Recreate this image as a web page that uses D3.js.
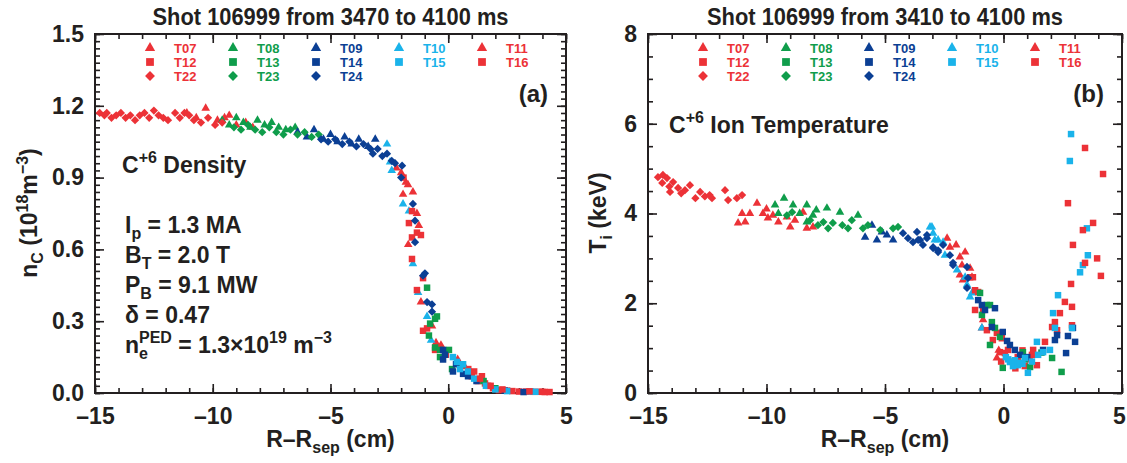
<!DOCTYPE html>
<html>
<head>
<meta charset="utf-8">
<script src="https://cdn.jsdelivr.net/npm/d3@7"></script>
<style>
  body { margin: 0; background: #fff; }
  svg text { font-family: 'Liberation Sans Narrow', 'Arial Narrow', 'Liberation Sans', sans-serif; font-weight: bold; fill: #231f20; }
  svg .legend text { font-family: 'Liberation Sans', Arial, sans-serif; }
</style>
</head>
<body>
<svg width="1127" height="463"></svg>
<script>
// ---- data: C+6 density n_C (1e18 m^-3) vs R-Rsep (cm) ----
const nc_T07 = [[-11.1,1.17],[-10.3,1.19],[-9.8,1.14],[-9.5,1.15],[-9.0,1.12],[-8.6,1.13],[-8.3,1.11],
  [-2.2,0.94],[-2.0,0.92],[-1.71,0.87],[-1.92,0.83],[-1.5,0.84],[-1.33,0.75],[-1.7,0.62],[-1.16,0.38],
  [-0.69,0.28],[-0.52,0.21],[-0.31,0.20],[0.4,0.14],[0.7,0.11]]
const nc_T11 = [[-10.7,1.15],[-9.3,1.16],[-1.8,0.88],[-1.25,0.70],[0.9,0.09]]
const nc_T12 = [[-1.9,0.90],[-1.54,0.76],[-1.67,0.71],[-1.54,0.65],[-1.16,0.66],[-1.33,0.67],[-1.54,0.56],
  [-1.07,0.48],[-1.33,0.43],[-1.07,0.26],[-0.9,0.27],[-0.56,0.18],[-0.1,0.16],[0.5,0.12],[0.85,0.10],
  [1.0,0.07],[1.26,0.05],[1.43,0.07],[1.56,0.04],[1.69,0.03],[1.9,0.02],[2.15,0.012],[2.5,0.01],
  [2.72,0.008],[3.0,0.006],[3.3,0.006],[3.6,0.005],[3.87,0.005],[4.1,0.004],[4.3,0.004]]
const nc_T16 = [[1.1,0.09],[1.35,0.06],[1.8,0.03],[2.3,0.015],[3.45,0.007],[4.0,0.005]]
const nc_T22 = [[-14.8,1.17],[-14.6,1.16],[-14.5,1.17],[-14.3,1.15],[-14.1,1.16],[-13.9,1.17],[-13.7,1.15],
  [-13.5,1.16],[-13.3,1.14],[-13.1,1.16],[-12.9,1.17],[-12.7,1.15],[-12.5,1.18],[-12.3,1.16],[-12.1,1.15],
  [-11.9,1.14],[-11.6,1.17],[-11.4,1.15],[-11.2,1.17],[-11.0,1.16],[-10.8,1.14],[-10.5,1.13],[-10.2,1.15],
  [-9.9,1.12],[-9.6,1.13]]
const nc_T08 = [[-9.6,1.14],[-9.3,1.12],[-9.0,1.15],[-8.7,1.13],[-8.4,1.11],[-8.1,1.14],[-7.8,1.12],
  [-7.5,1.13],[-7.2,1.11],[-6.9,1.10],[-6.5,1.11]]
const nc_T13 = [[-0.9,0.44],[-0.56,0.31],[-0.48,0.32],[-0.77,0.29],[-0.82,0.24],[-0.56,0.19],[-0.35,0.18],
  [0.03,0.18],[-0.35,0.15],[0.16,0.10],[0.6,0.12],[1.5,0.05],[2.0,0.02]]
const nc_T23 = [[-9.1,1.11],[-8.8,1.10],[-8.5,1.12],[-8.2,1.10],[-7.9,1.09],[-7.6,1.11],[-7.3,1.09],
  [-7.0,1.08],[-6.7,1.10],[-6.4,1.08],[-6.1,1.09],[-5.8,1.07],[-5.5,1.08]]
const nc_T09 = [[-6.4,1.09],[-6.0,1.07],[-5.7,1.10],[-5.3,1.06],[-5.0,1.08],[-4.7,1.05],[-4.4,1.07],
  [-4.1,1.04],[-3.8,1.06],[-3.4,1.03],[-3.1,1.06]]
const nc_T14 = [[-0.22,0.18],[-0.14,0.16],[-0.22,0.14],[0.2,0.09],[0.33,0.12],[0.63,0.08],[0.84,0.07],
  [1.2,0.05],[2.4,0.01],[3.2,0.004]]
const nc_T24 = [[-5.4,1.06],[-5.1,1.05],[-4.8,1.06],[-4.5,1.04],[-4.2,1.05],[-3.9,1.03],[-3.6,1.04],
  [-3.3,1.02],[-3.2,1.00],[-3.0,1.02],[-2.8,0.99],[-2.6,1.00],[-2.4,0.97],[-2.26,0.96],[-2.0,0.90],
  [-1.96,0.95],[-1.5,0.79],[-1.41,0.72],[-1.41,0.63],[-1.07,0.49],[-0.99,0.50],[-0.9,0.38],
  [-0.69,0.34],[-0.69,0.37]]
const nc_T10 = [[-2.6,1.04],[-2.47,0.965],[-2.4,0.93],[-1.92,0.79],[-1.67,0.76],[-1.5,0.54],[-1.28,0.42],
  [-0.9,0.32],[-0.73,0.22]]
const nc_T15 = [[0.37,0.13],[0.5,0.10],[0.63,0.12],[0.84,0.09],[0.2,0.15],[1.1,0.06],[1.6,0.03],
  [2.0,0.015],[2.5,0.008],[3.5,0.006],[3.7,0.005]]

// ---- data: C+6 ion temperature T_i (keV) vs R-Rsep (cm) ----
const ti_T07 = [[-11.2,3.79],[-11.03,4.0],[-10.9,3.81],[-10.7,4.0],[-10.4,4.23],[-10.15,4.0],[-9.94,3.9],
  [-9.73,3.96],[-9.5,3.81],[-9.14,3.92],[-9.0,3.70],[-8.46,4.03],[-8.3,3.67],[-8.04,3.7],
  [-2.38,3.45],[-2.26,3.25],[-1.84,3.03],[-1.75,2.85],[-1.62,3.14],[-1.41,2.78],[-1.84,2.63],
  [-1.33,2.58],[-1.71,2.52],[-0.86,1.63],[-0.91,1.45],[-0.28,0.78]]
const ti_T11 = [[-10.0,4.1],[-8.8,3.85],[-2.0,3.3],[-0.2,0.95]]
const ti_T12 = [[-1.41,2.58],[-1.29,2.58],[-1.2,2.29],[-1.07,2.25],[-1.2,1.85],[-0.86,1.85],[-0.7,1.4],
  [-0.28,1.34],[-0.45,1.18],[-0.07,1.22],[-0.15,0.91],[0.06,0.89],[0.19,0.96],[0.3,0.7],[0.6,0.8],
  [0.9,0.6],[1.1,0.75],[0.5,0.55],[1.2,0.85],[-0.1,0.7],[0.8,0.95],[1.25,0.96],[1.41,0.62],[1.75,1.14],
  [2.05,1.47],[2.26,1.4],[2.17,1.58],[2.38,1.78],[2.59,2.03],[2.85,2.43],[2.89,1.92],[2.89,1.51]]
const ti_T16 = [[2.93,3.3],[2.72,4.23],[3.35,3.63],[3.44,5.46],[3.44,2.9],[3.78,3.79],[3.95,3.0],
  [4.11,2.61],[4.2,4.88]]
const ti_T22 = [[-14.58,4.81],[-14.37,4.86],[-14.4,4.68],[-14.2,4.79],[-14.1,4.6],[-14.07,4.48],
  [-13.94,4.70],[-13.73,4.57],[-13.6,4.45],[-13.44,4.52],[-13.23,4.63],[-13.0,4.34],[-12.8,4.48],
  [-12.6,4.38],[-12.4,4.41],[-12.3,4.34],[-11.75,4.52],[-11.62,4.30],[-11.25,4.34],[-11.03,4.41]]
const ti_T08 = [[-9.64,4.19],[-9.5,4.0],[-9.26,4.34],[-8.88,4.19],[-8.6,4.0],[-8.3,4.19],[-8.04,3.96],
  [-7.9,4.08],[-7.45,4.12],[-6.9,4.03],[-6.14,3.96],[-8.3,3.81]]
const ti_T13 = [[-0.99,2.23],[-0.7,1.96],[-0.57,1.96],[-0.91,1.74],[-0.49,1.58],[-0.36,1.45],[-0.15,1.25],
  [-0.57,1.07],[-0.03,0.56],[0.82,0.91],[0.9,0.75],[1.12,0.58],[1.6,0.9],[2.05,0.78],[2.45,0.47]]
const ti_T23 = [[-9.14,3.96],[-8.92,4.03],[-8.16,3.85],[-7.83,3.74],[-7.6,3.81],[-7.4,3.67],[-7.2,3.79],
  [-6.8,3.74],[-6.56,3.67],[-6.4,3.85],[-5.93,3.67],[-5.72,3.74],[-5.2,3.63],[-4.66,3.67],[-4.45,3.7]]
const ti_T09 = [[-5.84,3.47],[-5.55,3.74],[-5.34,3.41],[-5.13,3.59],[-4.92,3.52],[-4.66,3.41]]
const ti_T14 = [[-1.07,2.07],[-0.91,1.96],[-0.78,1.85],[-0.36,1.89],[-0.49,1.47],[-0.03,1.36],[0.15,1.16],
  [0.27,1.07],[0.48,0.96],[0.7,0.85],[1.0,0.8],[1.67,0.96],[2.17,1.18],[2.26,1.29],[2.64,0.89],
  [2.72,1.27],[2.93,1.45],[3.02,1.14]]
const ti_T24 = [[-4.24,3.56],[-4.03,3.45],[-3.82,3.36],[-3.65,3.59],[-3.6,3.41],[-3.52,3.41],[-3.4,3.3],
  [-3.23,3.52],[-3.23,3.45],[-2.97,3.23],[-2.97,3.25],[-2.76,3.14],[-2.76,3.18],[-2.55,3.3],
  [-2.26,3.07],[-2.13,2.9],[-2.13,2.85],[-1.54,2.81],[-1.5,2.56],[-1.54,2.34]]
const ti_T10 = [[-3.1,3.7],[-3.02,3.7],[-2.97,3.56],[-2.9,3.41],[-2.76,3.41],[-2.55,3.36],[-2.47,3.07],
  [-1.96,2.74],[-1.62,2.58],[-1.54,2.41],[-1.41,2.14],[-1.33,2.23],[-0.91,1.45]]
const ti_T15 = [[0.1,0.8],[0.2,0.75],[0.27,0.69],[0.4,0.6],[0.48,0.73],[0.6,0.62],[0.7,0.67],[0.8,0.65],
  [0.91,0.78],[1.03,0.45],[1.2,0.7],[1.41,1.14],[1.46,0.85],[1.67,0.91],[1.96,0.96],[2.09,1.78],
  [2.17,1.45],[2.3,2.18],[2.8,5.17],[2.85,5.77],[2.89,1.45],[3.23,2.69],[3.35,2.85],[3.52,3.67],[3.56,3.07]]

// ---- series / tick definitions ----
const seriesNames = ['T07', 'T08', 'T09', 'T10', 'T11', 'T12', 'T13', 'T14', 'T15', 'T16', 'T22', 'T23', 'T24']
const legendRows = [['T07', 'T08', 'T09', 'T10', 'T11'], ['T12', 'T13', 'T14', 'T15', 'T16'], ['T22', 'T23', 'T24']]
const xTicks = [-15, -10, -5, 0, 5]
const ncTicks = [0, 0.3, 0.6, 0.9, 1.2, 1.5]
const tiTicks = [0, 2, 4, 6, 8]

const ncData = { T07: nc_T07, T08: nc_T08, T09: nc_T09, T10: nc_T10, T11: nc_T11, T12: nc_T12, T13: nc_T13,
  T14: nc_T14, T15: nc_T15, T16: nc_T16, T22: nc_T22, T23: nc_T23, T24: nc_T24 }
const tiData = { T07: ti_T07, T08: ti_T08, T09: ti_T09, T10: ti_T10, T11: ti_T11, T12: ti_T12, T13: ti_T13,
  T14: ti_T14, T15: ti_T15, T16: ti_T16, T22: ti_T22, T23: ti_T23, T24: ti_T24 }

const red = '#ec3237'
const green = '#0f9d4b'
const navy = '#0b3f94'
const cyan = '#1ab3ea'
const color = { T07: red, T08: green, T09: navy, T10: cyan, T11: red, T12: red, T13: green, T14: navy,
  T15: cyan, T16: red, T22: red, T23: green, T24: navy }
const shape = name => {
  const n = +name.slice(1)
  if (n <= 11) return 'tri'
  if (n <= 16) return 'sq'
  return 'dia'
}

const plotTop = 34
const plotBottom = 393
const svg = d3.select('svg')
const fmtX = d3.format('d')

function marker (sel, name, scale) {
  const s = shape(name)
  const k = scale || 1
  if (s === 'tri') {
    sel.attr('d', d3.symbol().type(d3.symbolTriangle).size(32 * k * k)())
  } else if (s === 'sq') {
    sel.attr('d', d3.symbol().type(d3.symbolSquare).size(42 * k * k)())
  } else {
    sel.attr('d', d3.symbol().type(d3.symbolSquare).size(34 * k * k)())
  }
  sel.attr('fill', color[name])
}

function drawPanel (p) {
  const g = svg.append('g')
  const x = d3.scaleLinear().domain([-15, 5]).range([p.left, p.right])
  const y = d3.scaleLinear().domain(p.yDomain).range([plotBottom, plotTop])

  // minor ticks on all four sides
  const addAxis = (axis, tf, cls) => g.append('g').attr('class', cls).attr('transform', tf).call(axis)
  const xMinor = d3.range(-15, 6, 1)
  addAxis(d3.axisBottom(x).tickValues(xMinor).tickSize(-5).tickFormat(''), `translate(0,${plotBottom})`, 'tk')
  addAxis(d3.axisTop(x).tickValues(xMinor).tickSize(-5).tickFormat(''), `translate(0,${plotTop})`, 'tk')
  addAxis(d3.axisLeft(y).tickValues(p.yMinor).tickSize(-5).tickFormat(''), `translate(${p.left},0)`, 'tk')
  addAxis(d3.axisRight(y).tickValues(p.yMinor).tickSize(-5).tickFormat(''), `translate(${p.right},0)`, 'tk')
  // major ticks with labels
  addAxis(d3.axisBottom(x).tickValues(xTicks).tickSize(-9).tickPadding(15)
    .tickFormat(d => (d < 0 ? '\u2013' + Math.abs(d) : fmtX(d))), `translate(0,${plotBottom})`, 'tk big')
  addAxis(d3.axisTop(x).tickValues(xTicks).tickSize(-9).tickFormat(''), `translate(0,${plotTop})`, 'tk')
  addAxis(d3.axisLeft(y).tickValues(p.yTicks).tickSize(-9).tickPadding(11).tickFormat(p.yFormat), `translate(${p.left},0)`, 'tk big')
  addAxis(d3.axisRight(y).tickValues(p.yTicks).tickSize(-9).tickFormat(''), `translate(${p.right},0)`, 'tk')

  g.selectAll('.tk .domain').remove()
  g.selectAll('.tk line').attr('stroke', '#231f20').attr('stroke-width', 1.6)
  g.selectAll('.big text').attr('font-size', 23).attr('fill', '#231f20')
  // keep the last x label inside the page
  g.selectAll('.big text').filter(d => d === 5).attr('dx', p.lastDx || 0)

  g.append('rect')
    .attr('x', p.left).attr('y', plotTop)
    .attr('width', p.right - p.left).attr('height', plotBottom - plotTop)
    .attr('fill', 'none').attr('stroke', '#231f20').attr('stroke-width', 2)

  // data points
  seriesNames.forEach(name => {
    g.append('g').selectAll('path')
      .data(p.data[name])
      .enter().append('path')
      .call(marker, name)
      .attr('transform', d => `translate(${x(d[0])},${y(d[1])})` + (shape(name) === 'dia' ? ' rotate(45)' : ''))
  })

  // legend
  const lg = g.append('g').attr('class', 'legend')
  legendRows.forEach((row, r) => {
    row.forEach((name, c) => {
      const mx = p.left + 55 + c * 83
      const my = plotTop + 14 + r * 14
      lg.append('path').call(marker, name, 1.2)
        .attr('transform', `translate(${mx},${my})` + (shape(name) === 'dia' ? ' rotate(45)' : ''))
      lg.append('text').attr('x', mx + 24).attr('y', my + 5)
        .attr('font-size', 13).style('fill', color[name]).text(name)
    })
  })

  // title, panel tag, axis label
  svg.append('text').attr('x', (p.left + p.right) / 2).attr('y', 25)
    .attr('text-anchor', 'middle').attr('font-size', 23)
    .attr('textLength', 356).attr('lengthAdjust', 'spacingAndGlyphs').text(p.title)
  svg.append('text').attr('x', p.right - 18).attr('y', 102)
    .attr('text-anchor', 'end').attr('font-size', 24).text(p.tag)

  const xl = svg.append('text').attr('x', (p.left + p.right) / 2).attr('y', 447)
    .attr('text-anchor', 'middle').attr('font-size', 23)
  xl.append('tspan').text('R\u2013R')
  xl.append('tspan').attr('font-size', 16).attr('dy', 6).text('sep')
  xl.append('tspan').attr('dy', -6).text(' (cm)')

  return { x, y }
}

drawPanel({
  left: 95, right: 566, yDomain: [0, 1.5], yTicks: ncTicks,
  yMinor: d3.range(0, 51).map(i => i * 0.03), yFormat: d3.format('.1f'),
  data: ncData, title: 'Shot 106999 from 3470 to 4100 ms', tag: '(a)'
})
drawPanel({
  left: 648, right: 1122, yDomain: [0, 8], yTicks: tiTicks,
  yMinor: d3.range(0, 17).map(i => i * 0.5), yFormat: d3.format('d'),
  data: tiData, title: 'Shot 106999 from 3410 to 4100 ms', tag: '(b)', lastDx: -3
})

// y axis labels
const yl1 = svg.append('text').attr('transform', 'translate(37,213) rotate(-90)')
  .attr('text-anchor', 'middle').attr('font-size', 23)
yl1.append('tspan').text('n')
yl1.append('tspan').attr('font-size', 16).attr('dy', 6).text('C')
yl1.append('tspan').attr('dy', -6).text(' (10')
yl1.append('tspan').attr('font-size', 16).attr('dy', -9).text('18')
yl1.append('tspan').attr('dy', 9).text('m')
yl1.append('tspan').attr('font-size', 16).attr('dy', -9).text('\u22123')
yl1.append('tspan').attr('dy', 9).text(')')

const yl2 = svg.append('text').attr('transform', 'translate(606,213) rotate(-90)')
  .attr('text-anchor', 'middle').attr('font-size', 23)
yl2.append('tspan').text('T')
yl2.append('tspan').attr('font-size', 16).attr('dy', 6).text('i')
yl2.append('tspan').attr('dy', -6).text(' (keV)')

// text annotations with sub/superscripts
function richLine (xp, yp, parts) {
  const t = svg.append('text').attr('x', xp).attr('y', yp).attr('font-size', 23)
  let shift = 0
  parts.forEach(pt => {
    const want = pt.sub ? 6 : pt.sup ? -10 : 0
    const s = t.append('tspan').attr('dy', want - shift).text(pt.t)
    if (pt.sub || pt.sup) s.attr('font-size', 16)
    if (pt.dx) s.attr('dx', pt.dx)
    shift = want
  })
  return t
}
richLine(122, 173, [{ t: 'C' }, { t: '+6', sup: true }, { t: ' Density' }])
richLine(125, 233, [{ t: 'I' }, { t: 'p', sub: true }, { t: ' = 1.3 MA' }])
richLine(125, 263, [{ t: 'B' }, { t: 'T', sub: true }, { t: ' = 2.0 T' }])
richLine(125, 293, [{ t: 'P' }, { t: 'B', sub: true }, { t: ' = 9.1 MW' }])
richLine(125, 323, [{ t: '\u03b4 = 0.47' }])
richLine(125, 353, [{ t: 'n' }, { t: 'e', sub: true }, { t: 'PED', sup: true, dx: -9 }, { t: ' = 1.3\u00d710' }, { t: '19', sup: true }, { t: ' m' }, { t: '\u22123', sup: true }])

richLine(669, 133, [{ t: 'C' }, { t: '+6', sup: true }, { t: ' Ion Temperature' }])
</script>
</body>
</html>
